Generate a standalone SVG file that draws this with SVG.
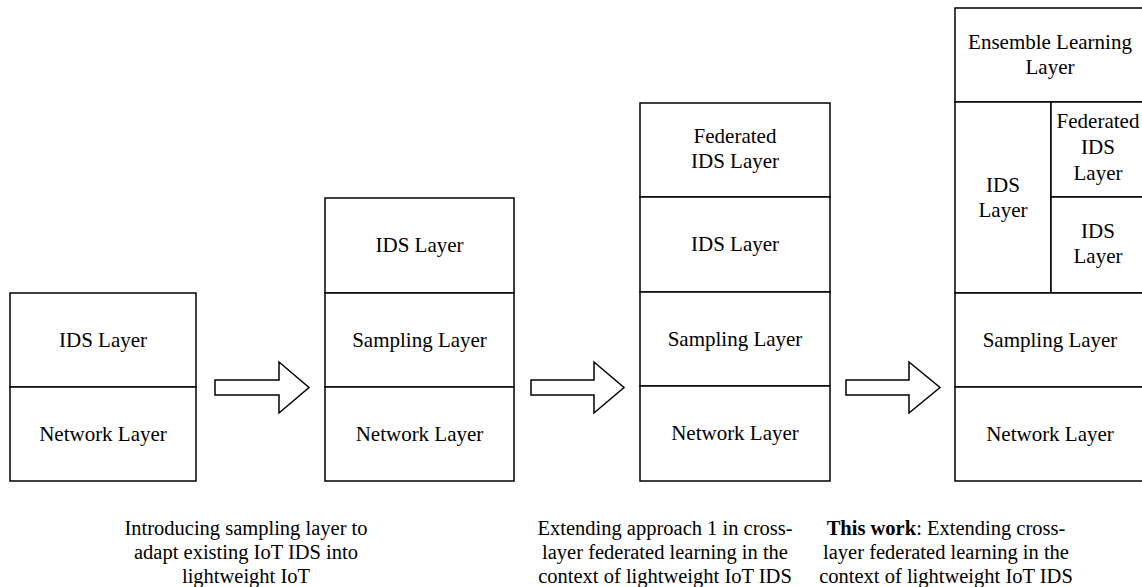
<svg xmlns="http://www.w3.org/2000/svg" width="1142" height="587" viewBox="0 0 1142 587">
<style>
.cell{fill:#fff;stroke:#000;stroke-width:1.5}
.lbl{font-family:"Liberation Serif","Times New Roman",serif;font-size:21px;fill:#000;text-anchor:middle}
.cap{font-family:"Liberation Serif","Times New Roman",serif;font-size:20.5px;fill:#000;text-anchor:middle}
.arrow{fill:#fff;stroke:#000;stroke-width:1.5;stroke-linejoin:miter}
</style>
<rect width="1142" height="587" fill="#fff"/>

<!-- Stack 1 -->
<g id="s1-ids"><rect class="cell" x="10" y="293" width="186" height="94"/><text class="lbl" x="103" y="347">IDS Layer</text></g>
<g id="s1-net"><rect class="cell" x="10" y="387" width="186" height="94"/><text class="lbl" x="103" y="441">Network Layer</text></g>

<!-- Stack 2 -->
<g id="s2-ids"><rect class="cell" x="325" y="198" width="189" height="95"/><text class="lbl" x="419.5" y="252">IDS Layer</text></g>
<g id="s2-samp"><rect class="cell" x="325" y="293" width="189" height="94"/><text class="lbl" x="419.5" y="347">Sampling Layer</text></g>
<g id="s2-net"><rect class="cell" x="325" y="387" width="189" height="94"/><text class="lbl" x="419.5" y="441">Network Layer</text></g>

<!-- Stack 3 -->
<g id="s3-fed"><rect class="cell" x="640" y="103" width="190" height="94"/><text class="lbl" x="735" y="143">Federated</text><text class="lbl" x="735" y="168">IDS Layer</text></g>
<g id="s3-ids"><rect class="cell" x="640" y="197" width="190" height="95"/><text class="lbl" x="735" y="251">IDS Layer</text></g>
<g id="s3-samp"><rect class="cell" x="640" y="292" width="190" height="94"/><text class="lbl" x="735" y="346">Sampling Layer</text></g>
<g id="s3-net"><rect class="cell" x="640" y="386" width="190" height="95"/><text class="lbl" x="735" y="440">Network Layer</text></g>

<!-- Stack 4 -->
<g id="s4-ens"><rect class="cell" x="955" y="8" width="192" height="94"/><text class="lbl" x="1050" y="49">Ensemble Learning</text><text class="lbl" x="1050" y="74">Layer</text></g>
<g id="s4-ids"><rect class="cell" x="955" y="102" width="96" height="191"/><text class="lbl" x="1003" y="192">IDS</text><text class="lbl" x="1003" y="217">Layer</text></g>
<g id="s4-fed"><rect class="cell" x="1051" y="102" width="96" height="95"/><text class="lbl" x="1098" y="128">Federated</text><text class="lbl" x="1098" y="154">IDS</text><text class="lbl" x="1098" y="180">Layer</text></g>
<g id="s4-ids2"><rect class="cell" x="1051" y="197" width="96" height="96"/><text class="lbl" x="1098" y="238">IDS</text><text class="lbl" x="1098" y="263">Layer</text></g>
<g id="s4-samp"><rect class="cell" x="955" y="293" width="192" height="94"/><text class="lbl" x="1050" y="347">Sampling Layer</text></g>
<g id="s4-net"><rect class="cell" x="955" y="387" width="192" height="94"/><text class="lbl" x="1050" y="441">Network Layer</text></g>

<!-- Connectors -->
<g id="connectors">
<polygon class="arrow" points="215,380 279,380 279,362 309,387.5 279,413 279,395 215,395"/>
<polygon class="arrow" points="531,380 594,380 594,362 624,387.5 594,413 594,395 531,395"/>
<polygon class="arrow" points="846,380 909,380 909,362 940,387.5 909,413 909,395 846,395"/>
</g>

<!-- Captions -->
<g id="cap1">
<text class="cap" x="246" y="535">Introducing sampling layer to</text>
<text class="cap" x="246" y="559">adapt existing IoT IDS into</text>
<text class="cap" x="246" y="583">lightweight IoT</text>
</g>
<g id="cap2">
<text class="cap" x="665" y="535">Extending approach 1 in cross-</text>
<text class="cap" x="665" y="559">layer federated learning in the</text>
<text class="cap" x="665" y="583">context of lightweight IoT IDS</text>
</g>
<g id="cap3">
<text class="cap" x="946" y="535"><tspan font-weight="bold">This work</tspan>: Extending cross-</text>
<text class="cap" x="946" y="559">layer federated learning in the</text>
<text class="cap" x="946" y="583">context of lightweight IoT IDS</text>
</g>
</svg>
